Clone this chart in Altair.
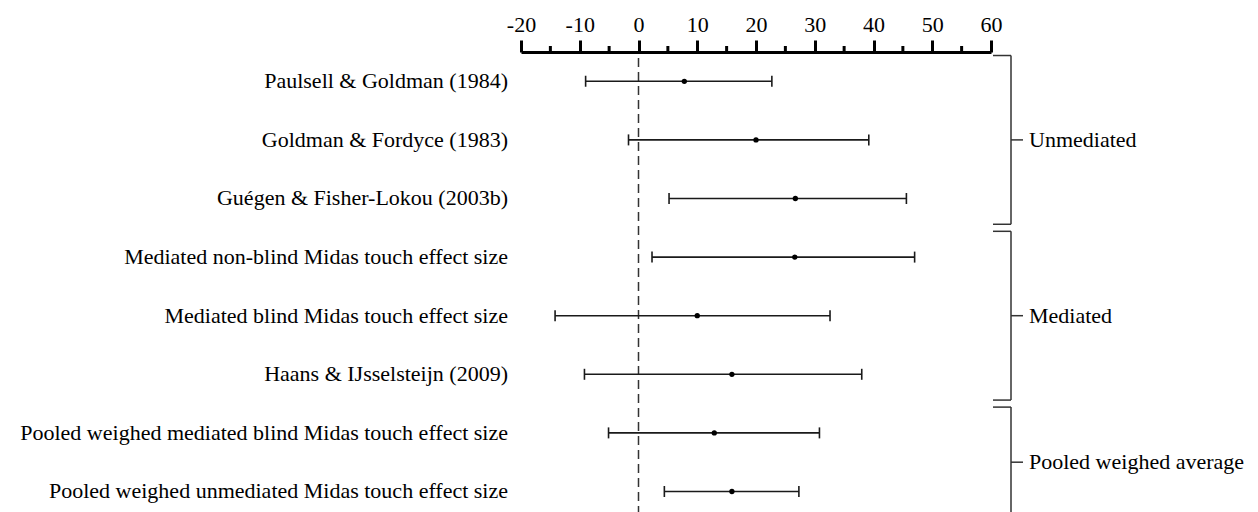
import altair as alt
import pandas as pd

labels = [
    "Paulsell & Goldman (1984)",
    "Goldman & Fordyce (1983)",
    "Guégen & Fisher-Lokou (2003b)",
    "Mediated non-blind Midas touch effect size",
    "Mediated blind Midas touch effect size",
    "Haans & IJsselsteijn (2009)",
    "Pooled weighed mediated blind Midas touch effect size",
    "Pooled weighed unmediated Midas touch effect size",
]
est = [7.8, 20.0, 26.7, 26.6, 10.0, 15.9, 12.9, 15.9]
lo = [-9.0, -1.7, 5.2, 2.3, -14.2, -9.2, -5.1, 4.4]
hi = [22.7, 39.2, 45.6, 47.0, 32.6, 38.0, 30.8, 27.3]

groups = ["Unmediated", "Mediated", "Pooled weighed average"]
g_start = [0, 3, 6]
g_end = [2, 5, 7]

major_ticks = [-20, -10, 0, 10, 20, 30, 40, 50, 60]
minor_ticks = [-15, -5, 5, 15, 25, 35, 45, 55]

df = pd.DataFrame({"label": labels, "row": list(range(len(labels))),
                   "est": est, "lo": lo, "hi": hi})
gdf = pd.DataFrame({"group": groups, "start": g_start, "end": g_end})
mdf = pd.DataFrame({"v": minor_ticks})
zdf = pd.DataFrame({"z": [0]})

FONT = "Liberation Serif"
W, H = 470, 460
LINE = "#1a1a1a"

xscale = alt.Scale(domain=[-20, 60], nice=False, zero=False)
yscale = alt.Scale(domain=[-0.5, 7.35], reverse=True, nice=False, zero=False)

xaxis = alt.Axis(orient="top", values=major_ticks, title="", grid=False,
                 domainColor="black", domainWidth=3, tickColor="black",
                 tickWidth=3, tickSize=12, labelFont=FONT, labelFontSize=22,
                 labelColor="black", labelPadding=4, labelFlush=False,
                 labelExpr="datum.value + ''")

Y = alt.Y("row:Q", scale=yscale, axis=None)
base = alt.Chart(df)

def X(field):
    return alt.X(field, scale=xscale, axis=xaxis)

zero_line = alt.Chart(zdf).mark_rule(strokeDash=[9, 5], color="#333333", strokeWidth=1.5).encode(
    x=X("z:Q"), y=alt.value(6), y2=alt.value(H))

err = base.mark_rule(color=LINE, strokeWidth=1.6).encode(
    x=X("lo:Q"), x2="hi:Q", y=Y)

cap_lo = base.mark_tick(orient="vertical", size=11, thickness=1.6, color=LINE, opacity=1).encode(
    x=X("lo:Q"), y=Y)
cap_hi = base.mark_tick(orient="vertical", size=11, thickness=1.6, color=LINE, opacity=1).encode(
    x=X("hi:Q"), y=Y)

pts = base.mark_circle(size=28, color="black", opacity=1).encode(
    x=X("est:Q"), y=Y)

lbls = base.mark_text(align="right", baseline="middle", font=FONT, fontSize=22, color="black").encode(
    x=alt.value(-13), y=Y, text="label:N")

minor = alt.Chart(mdf).mark_rule(color="black", strokeWidth=3).encode(
    x=X("v:Q"), y=alt.value(0), y2=alt.value(-6))

gb = alt.Chart(gdf).transform_calculate(
    top="datum.start - 0.44", bot="datum.end + 0.44",
    mid="(datum.start + datum.end) / 2")
YT = alt.Y("top:Q", scale=yscale, axis=None)
YB = alt.Y("bot:Q", scale=yscale, axis=None)
YM = alt.Y("mid:Q", scale=yscale, axis=None)

br_v = gb.mark_rule(color="#333333", strokeWidth=1.5).encode(
    x=alt.value(490), y=YT, y2="bot:Q")
br_t = gb.mark_rule(color="#333333", strokeWidth=1.5).encode(
    x=alt.value(472), x2=alt.value(490), y=YT)
br_b = gb.mark_rule(color="#333333", strokeWidth=1.5).encode(
    x=alt.value(472), x2=alt.value(490), y=YB)
br_m = gb.mark_rule(color="#333333", strokeWidth=1.5).encode(
    x=alt.value(490), x2=alt.value(502), y=YM)
br_txt = gb.mark_text(align="left", baseline="middle", font=FONT, fontSize=22, color="black").encode(
    x=alt.value(508), y=YM, text="group:N")

chart = alt.layer(
    zero_line, err, cap_lo, cap_hi, pts, lbls, minor,
    br_v, br_t, br_b, br_m, br_txt
).properties(
    width=W, height=H,
    autosize=alt.AutoSizeParams(type="none"),
    padding={"left": 513, "top": 44, "right": 259, "bottom": 0},
    background="white",
).configure_view(stroke=None)

chart.save("out.html", embed_options={"renderer": "svg", "actions": False})
